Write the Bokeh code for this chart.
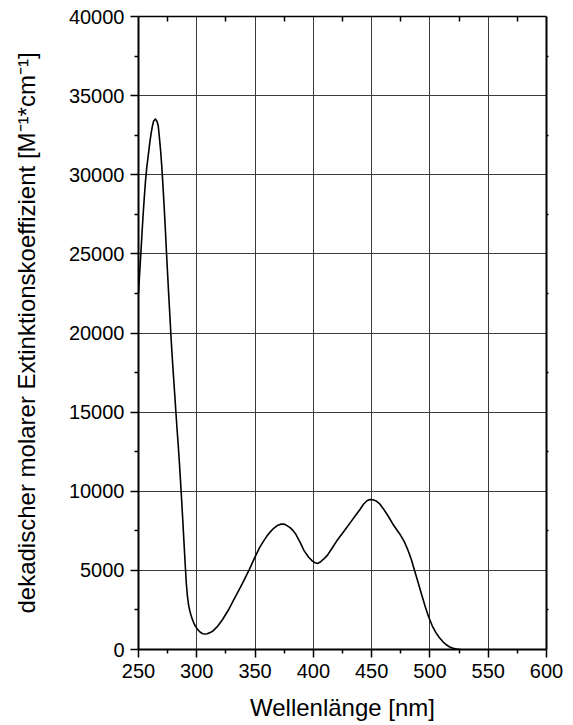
from bokeh.plotting import figure
from bokeh.models import Range1d, FixedTicker, LinearAxis
from bokeh.embed import file_html
from bokeh.resources import INLINE

# Absorption spectrum: wavelength (nm) vs. decadic molar extinction coefficient
wavelength_nm = [
    250, 251, 252, 253, 254, 255, 256, 257, 258, 259, 260, 261, 262, 263,
    264.5, 266, 267, 268, 269, 270, 271, 272, 273, 274, 275, 276, 277, 278,
    279, 280, 281, 282, 283, 284, 285, 286, 287, 288, 289, 290, 291, 292,
    293, 294, 295, 296, 297, 298, 299.5, 301, 303, 305, 307, 309, 312, 314,
    318, 322, 327, 332, 337.5, 341, 345, 350, 354, 357, 360, 363, 366, 369,
    372, 374, 376, 378, 380, 382, 385, 389, 392, 396, 399, 401.5, 403.5,
    406, 409, 412, 416, 420, 424, 428, 432, 436, 440, 443, 446, 448.5, 451,
    454, 457, 460, 464, 468, 472, 475, 478, 481, 484, 487, 490, 493, 496,
    499, 502, 505, 508, 511, 514, 517, 520, 523, 526,
]
epsilon = [
    22500, 23800, 25000, 26300, 27500, 28600, 29600, 30400, 31000, 31600,
    32200, 32700, 33100, 33400, 33520, 33350, 33050, 32300, 31500, 30500,
    29300, 28000, 26600, 25100, 23700, 22300, 21000, 19600, 18400, 17300,
    16200, 15100, 14000, 13000, 11900, 10700, 9450, 8150, 6800, 5450, 4200,
    3350, 2800, 2450, 2180, 1950, 1750, 1580, 1400, 1240, 1090, 1000, 980,
    1000, 1090, 1180, 1480, 1880, 2480, 3180, 3940, 4450, 5050, 5850, 6450,
    6820, 7150, 7430, 7660, 7830, 7920, 7930, 7890, 7800, 7700, 7560, 7280,
    6720, 6250, 5830, 5600, 5480, 5440, 5530, 5720, 5950, 6400, 6850, 7250,
    7650, 8050, 8450, 8850, 9180, 9400, 9480, 9460, 9380, 9200, 8900, 8450,
    7950, 7520, 7200, 6820, 6300, 5700, 4950, 4200, 3450, 2700, 2040, 1500,
    1080, 760, 500, 300, 160, 75, 25, 0,
]

x_major = [250, 300, 350, 400, 450, 500, 550, 600]
x_minor = [275, 325, 375, 425, 475, 525, 575]
y_major = [0, 5000, 10000, 15000, 20000, 25000, 30000, 35000, 40000]
y_minor = [2500, 7500, 12500, 17500, 22500, 27500, 32500, 37500]

x_label = "Wellenlänge [nm]"
y_label = "dekadischer molarer Extinktionskoeffizient [M\u207b\u00b9*cm\u207b\u00b9]"

FONT = "Liberation Sans"

p = figure(
    width=573, height=725,
    x_range=Range1d(250, 600), y_range=Range1d(0, 40000),
    output_backend="svg", toolbar_location=None, title=None,
    min_border_left=138, min_border_right=27,
    min_border_top=16, min_border_bottom=76,
)
p.xaxis.visible = False
p.yaxis.visible = False

x_ticker = FixedTicker(ticks=x_major, minor_ticks=x_minor)
y_ticker = FixedTicker(ticks=y_major, minor_ticks=y_minor)
# mirror axes only carry the short minor ticks (major ones sit on grid lines)
x_mirror_ticker = FixedTicker(ticks=[], minor_ticks=x_minor)
y_mirror_ticker = FixedTicker(ticks=[], minor_ticks=y_minor)


def style_axis(ax, label=None):
    ax.axis_line_color = "black"
    ax.axis_line_width = 2
    ax.major_tick_line_color = "black"
    ax.minor_tick_line_color = "black"
    ax.major_tick_line_width = 1.5
    ax.minor_tick_line_width = 1.5
    ax.major_label_text_font = FONT
    ax.major_label_text_font_size = "20px"
    ax.major_label_text_color = "black"
    if label is not None:
        ax.axis_label = label
        ax.axis_label_text_font = FONT
        ax.axis_label_text_font_size = "24px"
        ax.axis_label_text_font_style = "normal"
        ax.axis_label_text_color = "black"


bottom = LinearAxis(ticker=x_ticker)
style_axis(bottom, x_label)
bottom.major_tick_out = 8
bottom.major_tick_in = 0
bottom.minor_tick_out = 4
bottom.minor_tick_in = 0
bottom.major_label_standoff = 6
bottom.axis_label_standoff = 13
p.add_layout(bottom, "below")

left = LinearAxis(ticker=y_ticker)
style_axis(left, y_label)
left.major_tick_out = 8
left.major_tick_in = 0
left.minor_tick_out = 4
left.minor_tick_in = 0
left.major_label_standoff = 6
left.axis_label_standoff = 26
p.add_layout(left, "left")

top = LinearAxis(ticker=x_mirror_ticker)
style_axis(top)
top.axis_line_width = 1.5
top.minor_tick_out = 0
top.minor_tick_in = 5
p.add_layout(top, "above")

right = LinearAxis(ticker=y_mirror_ticker)
style_axis(right)
right.minor_tick_out = 2
right.minor_tick_in = 0
p.add_layout(right, "right")

p.xgrid.ticker = x_ticker
p.ygrid.ticker = y_ticker
for g in (p.xgrid, p.ygrid):
    g.grid_line_color = "#3a3a3a"
    g.grid_line_width = 1
    g.grid_line_alpha = 1

p.outline_line_color = None

p.line(wavelength_nm, epsilon, line_color="black", line_width=1.6,
       line_join="round")

open("out.html", "w").write(file_html(p, INLINE))
